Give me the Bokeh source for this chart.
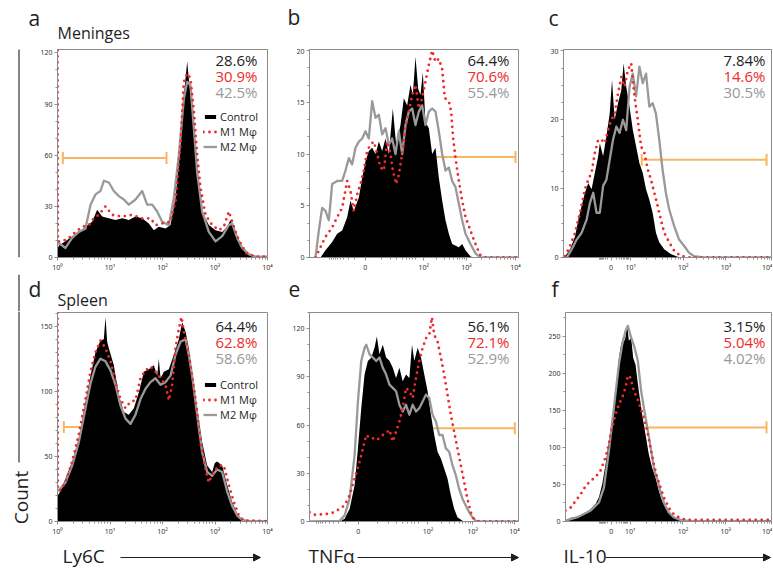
import math
from bokeh.plotting import figure
from bokeh.layouts import column, row
from bokeh.models import (FixedTicker, Label, Arrow, NormalHead, Whisker, TeeHead,
                          ColumnDataSource, Legend, LegendItem)
from bokeh.embed import file_html
from bokeh.resources import INLINE

FONT = "Open Sans"
RED = "#ee2a2a"
GRAY = "#999999"
BLACK = "#000000"
ORANGE = "#f8b660"
FRAME = "#8c8c8c"
TXT = "#1e1e1e"

# ---------------- data (x in instrument channel units, y = cell count) -------------
# Panel a : Meninges, Ly6C
a_ctrl_x = [6, 10, 30, 50, 70, 90, 110, 125, 140, 160, 180, 200, 220, 240, 260, 280, 295, 310, 330, 345,
            360, 375, 385, 395, 400, 410, 420, 430, 440, 460, 480, 500, 515, 525, 540, 555, 570, 590, 636]
a_ctrl_y = [5, 7, 9.5, 12.5, 15, 18, 21, 28, 24, 23, 22, 23, 22, 24, 23, 20, 16, 18, 17, 19,
            35, 66, 95, 115, 105, 86, 62, 41, 27, 19, 16, 15, 18, 22, 13, 7.5, 3, 0.5, 0]
a_m1_x = [6, 7, 20, 40, 60, 80, 100, 115, 130, 150, 170, 200, 230, 260, 285, 300, 320, 345, 360, 375,
          385, 395, 405, 415, 425, 435, 450, 470, 490, 505, 520, 530, 545, 560, 575, 600, 636]
a_m1_y = [125, 9.5, 9.5, 11.5, 15, 18, 19, 23, 25, 30, 25, 24, 25, 23, 23, 19, 20, 21, 33, 66,
          103, 108, 105, 86, 60, 41, 25, 19, 16, 18, 27, 21, 12.5, 6.5, 2, 0.5, 0.5]
a_m2_x = [6, 10, 30, 50, 70, 90, 105, 120, 135, 145, 160, 175, 190, 205, 220, 240, 260, 275, 290, 305,
          320, 340, 355, 370, 385, 395, 405, 415, 425, 440, 460, 480, 500, 520, 530, 545, 560, 580, 600, 636]
a_m2_y = [8, 8.5, 5.6, 11.5, 15, 17, 31, 37, 39, 45, 44, 39, 36, 34, 31, 34, 39, 31, 31, 27,
          21, 19, 35, 60, 93, 103, 101, 76, 50, 27, 15, 9.5, 12.5, 19, 20, 11.5, 5.6, 2, 0.5, 0.5]

# Panel b : Meninges, TNFa
b_ctrl_x = [45, 60, 80, 95, 110, 125, 135, 145, 160, 170, 180, 190, 200, 210, 220, 230, 240, 250, 262, 272,
            285, 295, 305, 315, 322, 330, 338, 345, 352, 360, 370, 380, 390, 400, 410, 420, 430, 440, 460,
            470, 480, 495, 505]
b_ctrl_y = [0, 0.7, 1.5, 2.3, 2.6, 3.9, 5.5, 4.5, 5.8, 7.7, 9.3, 10.3, 10.6, 10.0, 11.2, 10.3, 11.5, 10.0, 14.4, 10.9,
            12.8, 15.4, 14.7, 16.7, 15.7, 19.4, 16.3, 15.7, 17.9, 13.1, 12.5, 10.0, 10.6, 7.7, 5.5, 3.6, 2.3, 1.3, 1.0,
            1.3, 0.7, 0.1, 0]
b_m1_x = [30, 45, 60, 80, 95, 110, 125, 135, 145, 155, 165, 175, 185, 195, 205, 215, 225, 235, 245, 255,
          262, 272, 280, 290, 300, 310, 320, 330, 340, 350, 360, 370, 380, 390, 400, 410, 418, 430, 437, 443,
          450, 460, 470, 480, 495, 505, 515, 525, 535, 639]
b_m1_y = [0, 1.0, 2.0, 2.9, 3.9, 4.8, 7.4, 6.4, 4.5, 6.1, 7.1, 8.4, 10.3, 10.9, 11.2, 10.0, 8.7, 8.4, 11.2, 10.0,
          8.4, 7.1, 8.0, 10.0, 12.5, 14.1, 15.7, 16.7, 14.4, 15.4, 17.0, 18.6, 20.0, 18.9, 19.2, 18.2, 15.4, 15.1, 14.1, 11.5,
          9.6, 7.4, 5.5, 3.9, 2.6, 1.7, 0.9, 0.2, 0, 0]
b_m2_x = [30, 40, 50, 60, 70, 80, 95, 110, 120, 130, 140, 150, 160, 170, 180, 190, 200, 210, 220, 230,
          240, 250, 260, 270, 280, 290, 300, 310, 320, 330, 340, 350, 360, 370, 380, 390, 400, 410, 420, 430,
          440, 450, 460, 470, 480, 495, 510, 525, 639]
b_m2_y = [0, 2.6, 4.8, 4.5, 3.6, 7.1, 7.4, 7.4, 8.4, 9.6, 9.0, 10.6, 11.2, 11.5, 12.2, 11.5, 15.1, 13.5, 13.8, 11.9,
          12.5, 10.9, 11.5, 10.0, 12.2, 10.0, 12.8, 14.1, 14.4, 12.8, 14.1, 14.7, 12.8, 14.1, 14.4, 14.1, 12.2, 10.0, 8.4, 8.7,
          7.4, 6.8, 5.2, 3.6, 2.3, 1.3, 0.4, 0, 0]

# Panel c : Meninges, IL-10
c_ctrl_x = [20, 35, 50, 60, 70, 80, 90, 100, 110, 120, 125, 135, 145, 155, 162, 170, 180, 190, 197, 205,
            215, 225, 235, 245, 255, 265, 275, 285, 295, 305, 320, 340, 360, 380]
c_ctrl_y = [0.2, 1.2, 3.1, 5.5, 7.5, 9.4, 10.8, 9.9, 12.3, 14.7, 16.6, 14.7, 17.6, 20.9, 25.8, 20.0, 22.4, 24.3, 28.2, 24.8,
            21.9, 18.5, 16.1, 13.7, 12.3, 9.9, 8.4, 6.5, 3.6, 2.2, 1.2, 0.5, 0.1, 0]
c_m1_x = [20, 35, 50, 65, 80, 90, 100, 110, 120, 130, 140, 150, 160, 170, 180, 190, 200, 210, 220, 230,
          240, 250, 260, 270, 280, 290, 300, 310, 320, 335, 350, 370, 400, 645]
c_m1_y = [0.2, 1.7, 3.6, 6.5, 9.9, 11.3, 12.3, 15.2, 17.1, 17.1, 16.6, 18.5, 20.0, 20.9, 23.8, 26.2, 24.8, 27.2, 28.2, 23.4,
          20.0, 16.1, 15.2, 12.8, 11.3, 9.4, 7.5, 5.5, 3.6, 2.2, 1.0, 0.2, 0, 0]
c_m2_x = [25, 40, 55, 70, 85, 95, 105, 115, 125, 135, 145, 155, 165, 175, 185, 195, 205, 215, 225, 235,
          245, 255, 265, 275, 285, 295, 305, 315, 325, 335, 350, 365, 380, 395, 410, 440, 645]
c_m2_y = [0, 1.2, 2.6, 3.6, 5.5, 7.9, 9.4, 6.5, 6.5, 10.4, 11.3, 14.2, 17.1, 19.0, 18.1, 20.0, 18.5, 24.8, 26.7, 23.4,
          27.7, 25.3, 26.7, 21.9, 22.4, 20.9, 17.1, 12.8, 9.4, 7.0, 4.6, 2.6, 1.7, 0.7, 0.2, 0, 0]

# Panel d : Spleen, Ly6C
d_ctrl_x = [6, 10, 30, 50, 70, 90, 105, 120, 135, 145, 150, 155, 160, 175, 190, 205, 220, 235, 250, 265,
            280, 295, 305, 310, 315, 325, 340, 355, 370, 380, 390, 400, 410, 425, 440, 455, 470, 478, 485, 500,
            515, 530, 545, 560, 580, 636]
d_ctrl_y = [21, 21, 33, 46, 64, 92, 112, 130, 139, 140, 157, 138, 133, 120, 97, 84, 82, 87, 99, 115,
            117, 120, 112, 125, 110, 115, 117, 128, 140, 153, 146, 133, 112, 87, 61, 43, 38, 45, 46, 43,
            28, 15, 6, 1.5, 0.3, 0]
d_m1_x = [6, 7, 15, 30, 50, 70, 90, 105, 120, 135, 150, 165, 180, 195, 210, 225, 240, 255, 270, 285,
          300, 315, 330, 340, 350, 360, 370, 378, 385, 395, 405, 420, 435, 450, 460, 475, 490, 505, 520, 535,
          550, 565, 636]
d_m1_y = [165, 24, 24, 30, 46, 67, 94, 115, 130, 139, 133, 123, 107, 94, 87, 92, 93, 110, 116, 119,
          115, 110, 105, 93, 105, 133, 148, 157, 146, 135, 120, 94, 61, 40, 30, 38, 43, 43, 28, 15,
          4.6, 0.8, 0.3]
d_m2_x = [6, 10, 30, 50, 70, 90, 105, 120, 135, 150, 165, 180, 195, 210, 225, 240, 255, 270, 285, 300,
          315, 330, 345, 360, 375, 390, 400, 410, 425, 440, 455, 470, 485, 500, 515, 530, 545, 560, 580, 636]
d_m2_y = [24, 24, 30, 43, 61, 87, 106, 119, 125, 123, 116, 105, 89, 79, 75, 82, 94, 102, 107, 110,
          105, 107, 112, 128, 138, 140, 128, 112, 82, 53, 38, 35, 40, 38, 23, 12, 4.6, 1.3, 0.3, 0.3]

# Panel e : Spleen, TNFa
e_ctrl_x = [100, 115, 130, 145, 155, 165, 175, 185, 195, 205, 212, 220, 230, 240, 250, 260, 270, 280, 290, 300,
            310, 318, 325, 335, 345, 355, 365, 375, 385, 395, 405, 415, 425, 435, 445, 455, 470, 480]
e_ctrl_y = [0, 1.7, 7.9, 22.5, 45.5, 70.5, 91.4, 99.8, 101.8, 108, 115, 104, 110, 102, 100, 95.6, 89.3, 95.6, 87.2, 91.4,
            89.3, 110, 100, 108, 102, 91.4, 81, 66.4, 53.8, 43.4, 39.2, 33, 26.7, 16.3, 7.9, 2.7, 0.4, 0]
e_m1_x = [9, 25, 45, 65, 85, 100, 115, 130, 145, 160, 170, 180, 190, 200, 210, 220, 230, 240, 250, 260,
          270, 280, 290, 300, 310, 320, 330, 340, 350, 360, 370, 378, 385, 395, 405, 415, 425, 435, 445, 455,
          465, 475, 485, 495, 505, 520, 639]
e_m1_y = [5.8, 4.2, 4.4, 4.8, 5.8, 7.9, 10, 16.3, 26.7, 37.1, 45.5, 53.8, 51.8, 51.8, 50.7, 51.8, 53.8, 54.9, 57, 49.7,
          55.9, 62.2, 70.5, 83.1, 81, 76.8, 89.3, 99.8, 108, 114, 116, 127, 116, 112, 102, 91.4, 78.9, 66.4, 55.9, 45.5,
          35, 24.6, 14.2, 5.8, 1.3, 0, 0]
e_m2_x = [9, 100, 115, 130, 145, 155, 165, 175, 180, 190, 200, 210, 220, 230, 240, 250, 260, 270, 280, 290,
          300, 310, 320, 330, 340, 350, 360, 370, 380, 390, 400, 410, 420, 430, 440, 450, 460, 470, 480, 490,
          500, 510, 525, 639]
e_m2_y = [0, 0.4, 3.8, 14.2, 41.3, 74.7, 99.8, 108, 110, 104, 102, 99.8, 102, 95.6, 91.4, 85.1, 83.1, 81, 72.6, 68.4,
          72.6, 66.4, 72.6, 68.4, 70.5, 74.7, 78.9, 76.8, 66.4, 62.2, 53.8, 53.8, 45.5, 43.4, 35, 28.8, 20.4, 14.2, 10, 5.8,
          2.7, 0.4, 0, 0]

# Panel f : Spleen, IL-10
f_ctrl_x = [24, 40, 60, 80, 100, 115, 125, 135, 145, 155, 165, 175, 185, 190, 197, 203, 210, 215, 222, 228,
            235, 245, 255, 265, 275, 285, 295, 305, 315, 325, 335, 350, 365, 380, 400]
f_ctrl_y = [1.3, 5, 6.7, 10, 17, 24, 33, 51, 78, 109, 140, 176, 221, 235, 248, 244, 266, 244, 248, 221,
            212, 176, 145, 118, 91, 73, 60, 42, 28, 19, 12.6, 6.7, 3.1, 1.3, 0.4]
f_m1_x = [24, 40, 55, 70, 85, 100, 115, 130, 145, 155, 165, 175, 185, 195, 205, 212, 220, 230, 240, 250,
          260, 270, 280, 290, 300, 310, 320, 330, 340, 355, 375, 400, 645]
f_m1_y = [14.8, 19, 28, 37, 48, 55, 60, 69, 87, 105, 127, 145, 158, 167, 181, 197, 194, 176, 167, 154,
          140, 123, 100, 78, 60, 46, 33, 24, 14.8, 8, 3.6, 2.2, 2.2]
f_m2_x = [24, 60, 100, 125, 140, 155, 170, 185, 195, 205, 212, 222, 232, 242, 252, 262, 272, 282, 292, 302,
          312, 322, 335, 350, 370, 400, 645]
f_m2_y = [1.3, 5.8, 14.8, 26, 46, 96, 154, 212, 239, 257, 264, 248, 235, 217, 176, 149, 123, 96, 69, 55,
          37, 24, 12.6, 5.8, 2.2, 0.4, 0.4]

# gates: [level, start, end]
a_gate = [58.3, 22, 333]
b_gate = [9.7, 290, 630]
c_gate = [14.2, 252, 630]
d_gate = [72.6, 25, 333]
e_gate = [58, 290, 628]
f_gate = [127, 255, 630]

# percentages inside gate (Control, M1, M2)
a_pct = ["28.6%", "30.9%", "42.5%"]
b_pct = ["64.4%", "70.6%", "55.4%"]
c_pct = ["7.84%", "14.6%", "30.5%"]
d_pct = ["64.4%", "62.8%", "58.6%"]
e_pct = ["56.1%", "72.1%", "52.9%"]
f_pct = ["3.15%", "5.04%", "4.02%"]

series_names = ["Control", "M1 M\u03c6", "M2 M\u03c6"]

# axes
log_ticks = [6, 163.5, 321, 478.5, 636]
log_labels = ["10\u2070", "10\u00b9", "10\u00b2", "10\u00b3", "10\u2074"]
b_ticks = [179, 355, 483, 630]
e_ticks = [156, 366, 501, 627]
biex_labels_be = ["0", "10\u00b2", "10\u00b3", "10\u2074"]
c_ticks = [159, 219, 378, 507, 645]
f_ticks = [162, 219, 378, 507, 645]
biex_labels_cf = ["0", "10\u00b9", "10\u00b2", "10\u00b3", "10\u2074"]


def log_minor(pos):
    out = []
    for p0, p1 in zip(pos[:-1], pos[1:]):
        for m in range(2, 10):
            out.append(p0 + (p1 - p0) * math.log10(m))
    return out


def biex_minor(pos):
    out = log_minor(pos[1:]) if len(pos) > 2 else []
    z, p1 = pos[0], pos[1]
    w = (p1 - z)
    for m in range(2, 10):
        out.append(z + w * math.log10(m) * 0.9)
        out.append(z - w * math.log10(m) * 0.6)
    out.append(z - w * 0.6)
    return out


def blank(W, H):
    """Figure without axes, used for texts and arrows around the panels."""
    p = figure(width=W, height=H, x_range=(0, W), y_range=(0, H), output_backend="svg", toolbar_location=None,
               title=None, x_axis_type=None, y_axis_type=None, min_border=0)
    p.min_border_left = p.min_border_right = p.min_border_top = p.min_border_bottom = 0
    p.outline_line_color = None
    p.xgrid.visible = False
    p.ygrid.visible = False
    return p


def text(p, x, y, t, size, align="left", baseline="alphabetic", angle=0, color=TXT):
    # compensate the renderer's downward placement of the text box
    k = 0.36 if baseline == "alphabetic" else 0.23
    if angle:
        x -= k * size
    else:
        y += k * size
    p.add_layout(Label(x=x, y=y, x_units="screen", y_units="screen", text=t, text_font=FONT,
                       text_font_size=f"{size}px", text_color=color, text_align=align,
                       text_baseline=baseline, angle=angle))


def arrow(p, x0, y0, x1, y1, head=True):
    p.add_layout(Arrow(x_start=x0, y_start=y0, x_end=x1, y_end=y1, start_units="screen", end_units="screen",
                       line_color=TXT, line_width=1.1,
                       end=NormalHead(size=7, fill_color=TXT, line_color=TXT, line_width=1) if head else None))


def make_panel(W, H, bl, br, bt, bb, xr, yr, xt, xl, xminor, yt, yminor, ctrl, m1, m2, gate, pct,
               pct_x, pct_y):
    p = figure(width=W, height=H, x_range=xr, y_range=yr, output_backend="svg", toolbar_location=None,
               title=None, min_border_left=bl, min_border_right=br, min_border_top=bt, min_border_bottom=bb)
    p.xgrid.visible = False
    p.ygrid.visible = False
    p.outline_line_color = FRAME
    p.outline_line_width = 1
    for ax, ticks, minor in ((p.xaxis[0], xt, xminor), (p.yaxis[0], yt, yminor)):
        ax.ticker = FixedTicker(ticks=ticks, minor_ticks=minor)
        ax.axis_line_color = FRAME
        ax.major_tick_line_color = FRAME
        ax.minor_tick_line_color = FRAME
        ax.major_tick_out = 3
        ax.major_tick_in = 0
        ax.minor_tick_out = 2
        ax.minor_tick_in = 0
        ax.major_label_text_font_size = "7px"
        ax.major_label_text_font = "Noto Sans"
        ax.major_label_text_color = "#333333"
        ax.major_label_standoff = 2
    p.xaxis[0].major_label_overrides = {t: l for t, l in zip(xt, xl)}

    cx, cy = ctrl
    r0 = p.varea(x=cx, y1=[0] * len(cx), y2=cy, fill_color=BLACK)
    r2 = p.line(x=m2[0], y=m2[1], line_color=GRAY, line_width=2.3, line_join="round")
    r1 = p.line(x=m1[0], y=m1[1], line_color=RED, line_width=2.8, line_dash="0 6", line_cap="round")

    src = ColumnDataSource(dict(y=[gate[0]], lo=[gate[1]], hi=[gate[2]]))
    p.add_layout(Whisker(source=src, base="y", lower="lo", upper="hi", dimension="width",
                         line_color=ORANGE, line_width=2,
                         lower_head=TeeHead(size=12, line_color=ORANGE, line_width=2),
                         upper_head=TeeHead(size=12, line_color=ORANGE, line_width=2)))

    for txt, col, yy in zip(pct, [TXT, RED, GRAY], pct_y):
        text(p, pct_x, yy, txt, 15, align="right", baseline="middle", color=col)
    return p, r0, r1, r2


def add_legend(p, r0, r1, r2, loc, rowh):
    leg = Legend(items=[LegendItem(label=series_names[0], renderers=[r0]),
                        LegendItem(label=series_names[1], renderers=[r1]),
                        LegendItem(label=series_names[2], renderers=[r2])],
                 location=loc, padding=0, margin=0, spacing=0, glyph_width=14, glyph_height=5,
                 label_height=rowh, label_standoff=3, label_text_font=FONT, label_text_font_size="11px",
                 label_text_color=TXT, border_line_alpha=0, background_fill_alpha=0)
    p.add_layout(leg)


# ---------------- layout geometry ----------------
W2, W3 = 255, 237
HH1, HM1, HH2, HM2, HF = 48, 226, 37, 230, 28
GA, GB = 30, 34            # gutter widths for row 1 and row 2

# headers (the first one spans the gutter as well)
ha = blank(GA + 250, HH1); text(ha, 28, 23, "a", 21); text(ha, 57, 10, "Meninges", 16)
hb = blank(W2, HH1); text(hb, 7, 24, "b", 21)
hc = blank(W3, HH1); text(hc, 13, 23, "c", 21)
hd = blank(GA + 250, HH2); text(hd, 28, 15, "d", 21); text(hd, 57, 6, "Spleen", 16)
he = blank(W2, HH2); text(he, 8, 15, "e", 21)
hf = blank(W3, HH2); text(hf, 16, 15, "f", 21)
arrow(hd, 18.5, 0, 18.5, HH2, head=False)

# gutters with the vertical Count arrow and label
gA = blank(GA, HM1)
arrow(gA, 18.5, 0, 18.5, HM1 - 1)
gB = blank(GB, HM2 + HF)
arrow(gB, 18.5, HM2 + HF - 151, 18.5, HM2 + HF, head=False)
text(gB, 27.5, 72, "Count", 19, align="center", baseline="alphabetic", angle=math.pi / 2)

# footers: axis names with arrows
W1B = 250 + GA - GB
fd = blank(W1B, HF); text(fd, 28, 7, "Ly6C", 19); arrow(fd, 86, 12, 226, 12)
fe = blank(W2, HF); text(fe, 28, 7, "TNF\u03b1", 19); arrow(fe, 77, 12, 238, 12)
ff = blank(W3, HF); text(ff, 28, 7, "IL-10", 19); arrow(ff, 70, 12, 235, 12)

pa, ra0, ra1, ra2 = make_panel(250, HM1, 27, 13, 1, 16, (6, 636), (0, 122), log_ticks, log_labels,
                               log_minor(log_ticks), [0, 30, 60, 90, 120], list(range(10, 121, 10)),
                               (a_ctrl_x, a_ctrl_y), (a_m1_x, a_m1_y), (a_m2_x, a_m2_y), a_gate, a_pct,
                               200, [194, 178, 162])
add_legend(pa, ra0, ra1, ra2, (146, 103), 15)

pb, _, _, _ = make_panel(W2, HM1, 29, 17, 1, 16, (12, 639), (0, 20.1), b_ticks, biex_labels_be,
                         biex_minor(b_ticks), [0, 5, 10, 15, 20], [v / 3 * 5 for v in range(1, 13)],
                         (b_ctrl_x, b_ctrl_y), (b_m1_x, b_m1_y), (b_m2_x, b_m2_y), b_gate, b_pct,
                         200, [194, 178, 162])

pc, _, _, _ = make_panel(W3, HM1, 28, 1, 1, 16, (15, 645), (0, 30.2), c_ticks, biex_labels_cf,
                         biex_minor(c_ticks), [0, 10, 20, 30], [v * 2.5 for v in range(1, 13)],
                         (c_ctrl_x, c_ctrl_y), (c_m1_x, c_m1_y), (c_m2_x, c_m2_y), c_gate, c_pct,
                         202, [194, 178, 162])

pd_, rd0, rd1, rd2 = make_panel(W1B, HM2, 27 + GA - GB, 13, 1, 20, (6, 636), (0, 160.5), log_ticks, log_labels,
                                log_minor(log_ticks), [0, 50, 100, 150], list(range(10, 161, 10)),
                                (d_ctrl_x, d_ctrl_y), (d_m1_x, d_m1_y), (d_m2_x, d_m2_y), d_gate, d_pct,
                                200, [192, 176, 160])
add_legend(pd_, rd0, rd1, rd2, (146, 99), 14)

pe, _, _, _ = make_panel(W2, HM2, 29, 17, 1, 20, (9, 639), (0, 130), e_ticks, biex_labels_be,
                         biex_minor(e_ticks), [0, 30, 60, 90, 120], list(range(10, 131, 10)),
                         (e_ctrl_x, e_ctrl_y), (e_m1_x, e_m1_y), (e_m2_x, e_m2_y), e_gate, e_pct,
                         200, [192, 176, 160])

pf, _, _, _ = make_panel(W3, HM2, 30, 1, 1, 20, (24, 645), (0, 282), f_ticks, biex_labels_cf,
                         biex_minor(f_ticks), [0, 50, 100, 150, 200, 250], list(range(25, 276, 25)),
                         (f_ctrl_x, f_ctrl_y), (f_m1_x, f_m1_y), (f_m2_x, f_m2_y), f_gate, f_pct,
                         200, [192, 176, 160])

layout = column(
    row(ha, hb, hc),
    row(gA, pa, pb, pc),
    row(hd, he, hf),
    row(gB, column(row(pd_, pe, pf), row(fd, fe, ff))),
)
open("out.html", "w").write(file_html(layout, INLINE))
